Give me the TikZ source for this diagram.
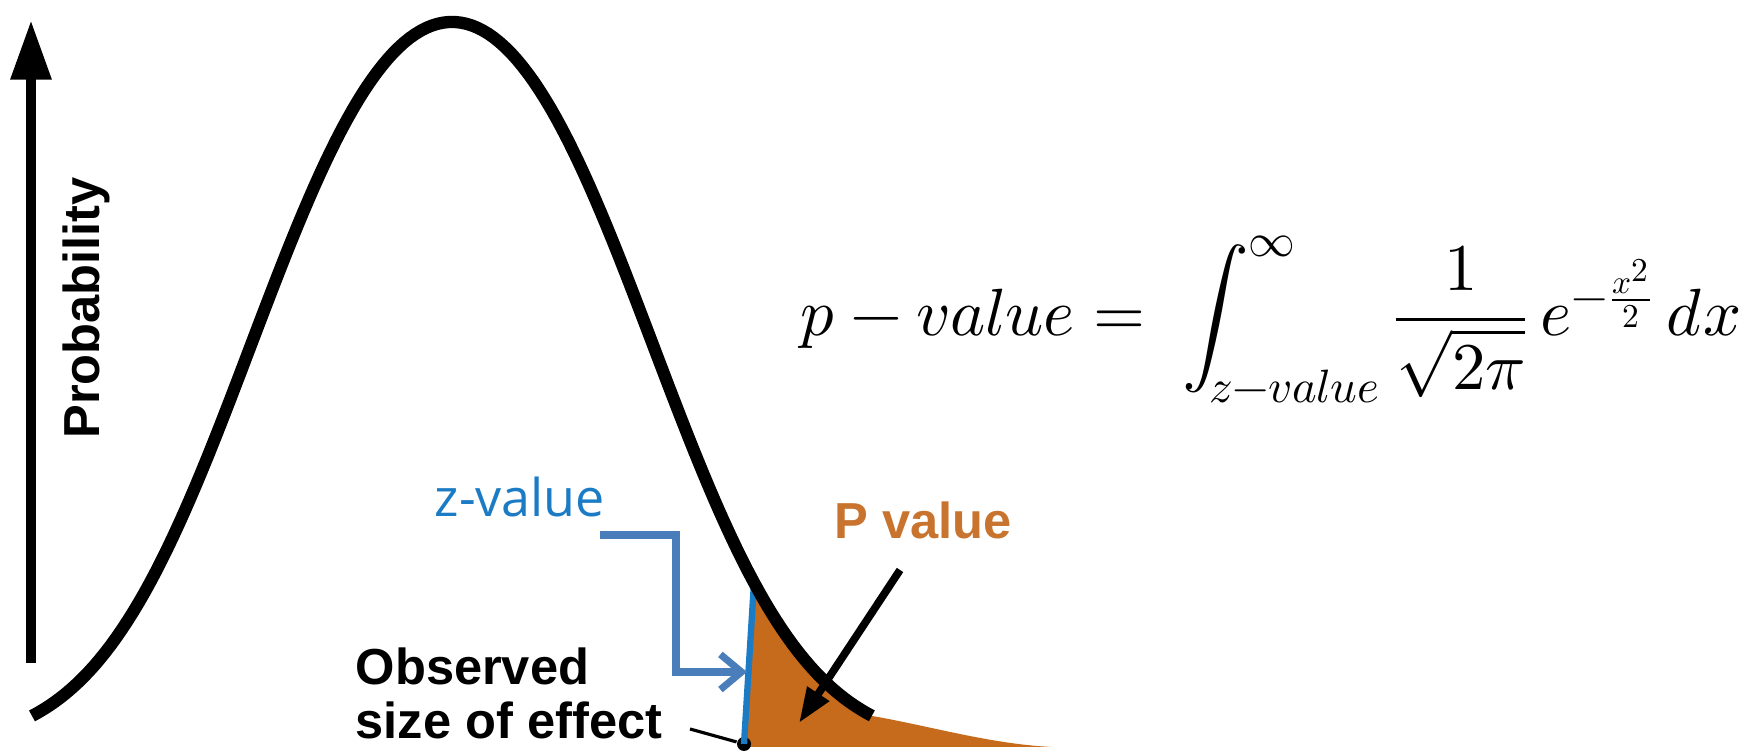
\documentclass[tikz,border=0pt]{standalone}
\usepackage{fontspec}
\usepackage{unicode-math}
\newfontfamily\figfont{Liberation Sans}
\newfontfamily\zfont{Open Sans}
\usepackage{xcolor}
\definecolor{pvalorange}{HTML}{C66A1C}
\definecolor{pvaltext}{HTML}{C8742E}
\definecolor{zblue}{HTML}{1B7BC4}
\definecolor{zbracket}{HTML}{4A7EBB}
\usepackage{tikz}
\usetikzlibrary{arrows.meta,positioning}

\begin{document}
\begin{tikzpicture}[
      declare function={bell(\x)=0.08+7.24*(exp(-(\x-5.52)*(\x-5.52)/3.699)+exp(-(\x-3.52)*(\x-3.52)/3.699))/1.5264;},
      axisline/.style={line width=3pt, -{Triangle[length=17pt, width=11pt]}},
      bellline/.style={line width=3.5pt},
      figlabel/.style={font=\figfont\bfseries\fontsize{14.4}{15.4}\selectfont, inner sep=0pt},
      zline/.style={draw=zblue, line width=1.8pt},
      bracket/.style={draw=zbracket, line width=2pt, -{Straight Barb[length=6pt, width=10pt]}},
      parrow/.style={line width=2.2pt, -{Triangle[length=10pt, width=7pt]}},
      leader/.style={line width=0.9pt}
    ]
    \useasboundingbox (0,0) rectangle (17.55,7.54);

    \begin{scope}
      \clip (7.434,0) -- (7.62,3) -- (11,3) -- (11,0) -- cycle;
      \fill[pvalorange] plot[domain=7.3:8.72, samples=40] (\x,{bell(\x)}) .. controls (9.3,0.28) and (9.9,0.10) .. (10.52,0.07) -- (6.9,0.07) -- cycle;
    \end{scope}

    \node[circle, fill=black, inner sep=0pt, minimum size=0.14cm] (dot) at (7.44,0.10) {};
    \coordinate (ztop) at (7.54,{bell(7.54)});
    \draw[zline] (dot.center) -- (ztop);

    \draw[bellline] plot[domain=0.32:8.72, samples=150] (\x,{bell(\x)});

    \coordinate (ybot) at (0.31,0.91);
    \coordinate (ytop) at (0.31,7.34);
    \draw[axisline] (ybot) -- (ytop);
    \node[figlabel, rotate=90, anchor=base] (prob) at (0.99,4.46) {Probability};

    \node[figlabel, align=left, anchor=base west] (obs) at (3.55,0.15) {Observed\\size of effect};
    \node[figlabel, text=pvaltext, anchor=base west] (pval) at (8.34,2.15) {P value};
    \node[font=\zfont\fontsize{14.8}{16}\selectfont, text=zblue, anchor=base west, inner sep=0pt] (zval) at (4.34,2.37) {z-value};

    \coordinate (lead) at (6.90,0.25);
    \draw[leader] (lead) -- (dot);
    \coordinate (pstart) at (9.00,1.84);
    \coordinate (ptip) at (7.99,0.31);
    \draw[parrow] (pstart) -- (ptip);
    \coordinate (zstart) at (6.00,2.19);
    \coordinate (zcorner) at (6.76,0.82);
    \coordinate (zend) at (7.47,0.82);
    \draw[bracket] (zstart) -| (zcorner) -- (zend);

    \node[inner sep=0pt, anchor=base west] (pformula) at (8.00,4.18) {\fontsize{19}{23}\selectfont$\displaystyle p - value = \;\int_{z-value}^{\infty}\frac{1}{\sqrt{2\pi}}\,e^{-\frac{x^2}{2}}\,dx$};
  \end{tikzpicture}
\end{document}
